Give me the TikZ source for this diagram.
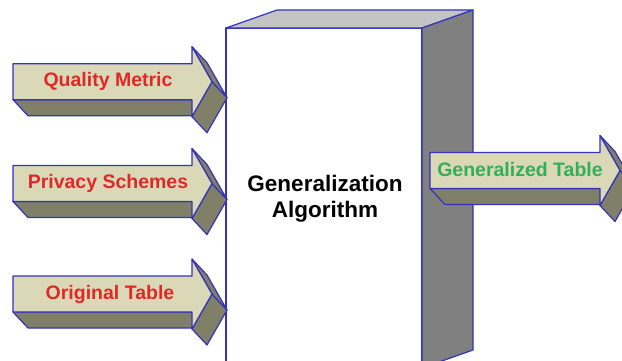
\documentclass[tikz,border=0pt]{standalone}
\usepackage{fontspec}
\setmainfont{Liberation Sans}
\usepackage{tikz}
\usetikzlibrary{positioning}

\definecolor{edgeblue}{RGB}{51,51,187}
\definecolor{arrowfront}{RGB}{218,216,182}
\definecolor{arrowside}{RGB}{128,128,104}
\definecolor{boxtop}{RGB}{196,196,196}
\definecolor{boxside}{RGB}{128,128,128}
\definecolor{labelred}{RGB}{224,40,40}
\definecolor{labelgreen}{RGB}{48,176,88}

% 3D block arrow: left x, shaft end x, centre y
\newcommand{\blockarrow}[3]{%
  \filldraw[face, fill=arrowside] (#1,#3+18) -- (#2,#3+18) -- (#2+15,#3+34) -- (#1+15,#3+34) -- cycle;
  \filldraw[face, fill=arrowside] (#2+20,#3) -- (#2,#3+35) -- (#2+15,#3+51) -- (#2+35,#3+16) -- cycle;
  \filldraw[face, fill=arrowside] (#2,#3-35) -- (#2+20,#3) -- (#2+35,#3+16) -- (#2+15,#3-19) -- cycle;
  \filldraw[face, fill=arrowfront] (#1,#3-18) -- (#2,#3-18) -- (#2,#3-35) -- (#2+20,#3)
    -- (#2,#3+35) -- (#2,#3+18) -- (#1,#3+18) -- cycle;
}

\begin{document}
\begin{tikzpicture}[x=1pt, y=-1pt]
\tikzstyle{face} = [draw=edgeblue, line width=1.2pt, line join=round]
\tikzstyle{inlabel} = [font=\fontsize{19.5}{22}\selectfont\bfseries, text=labelred]
\tikzstyle{outlabel} = [font=\fontsize{19.5}{22}\selectfont\bfseries, text=labelgreen]
\tikzstyle{title} = [font=\fontsize{22.5}{26}\selectfont\bfseries, align=center]

\clip (0,0) rectangle (622,360);
\fill[white] (0,0) rectangle (622,360);

% Algorithm box
\filldraw[face, fill=white] (226,28) rectangle (422,372);
\filldraw[face, fill=boxtop] (226,28) -- (277,10) -- (473,10) -- (422,28) -- cycle;
\filldraw[face, fill=boxside] (422,28) -- (473,10) -- (473,350) -- (422,368) -- cycle;
\node[title] (algo) at (325,199) {Generalization\\Algorithm};

% Inputs
\blockarrow{13}{192}{81.7}
\blockarrow{13}{192}{183.5}
\blockarrow{13}{192}{294}
\node[inlabel] (metric) at (108,81) {Quality Metric};
\node[inlabel] (privacy) at (108,183) {Privacy Schemes};
\node[inlabel] (original) at (110,294) {Original Table};

% Output
\blockarrow{430}{600}{170.5}
\node[outlabel] (generalized) at (520,170) {Generalized Table};
\end{tikzpicture}
\end{document}
